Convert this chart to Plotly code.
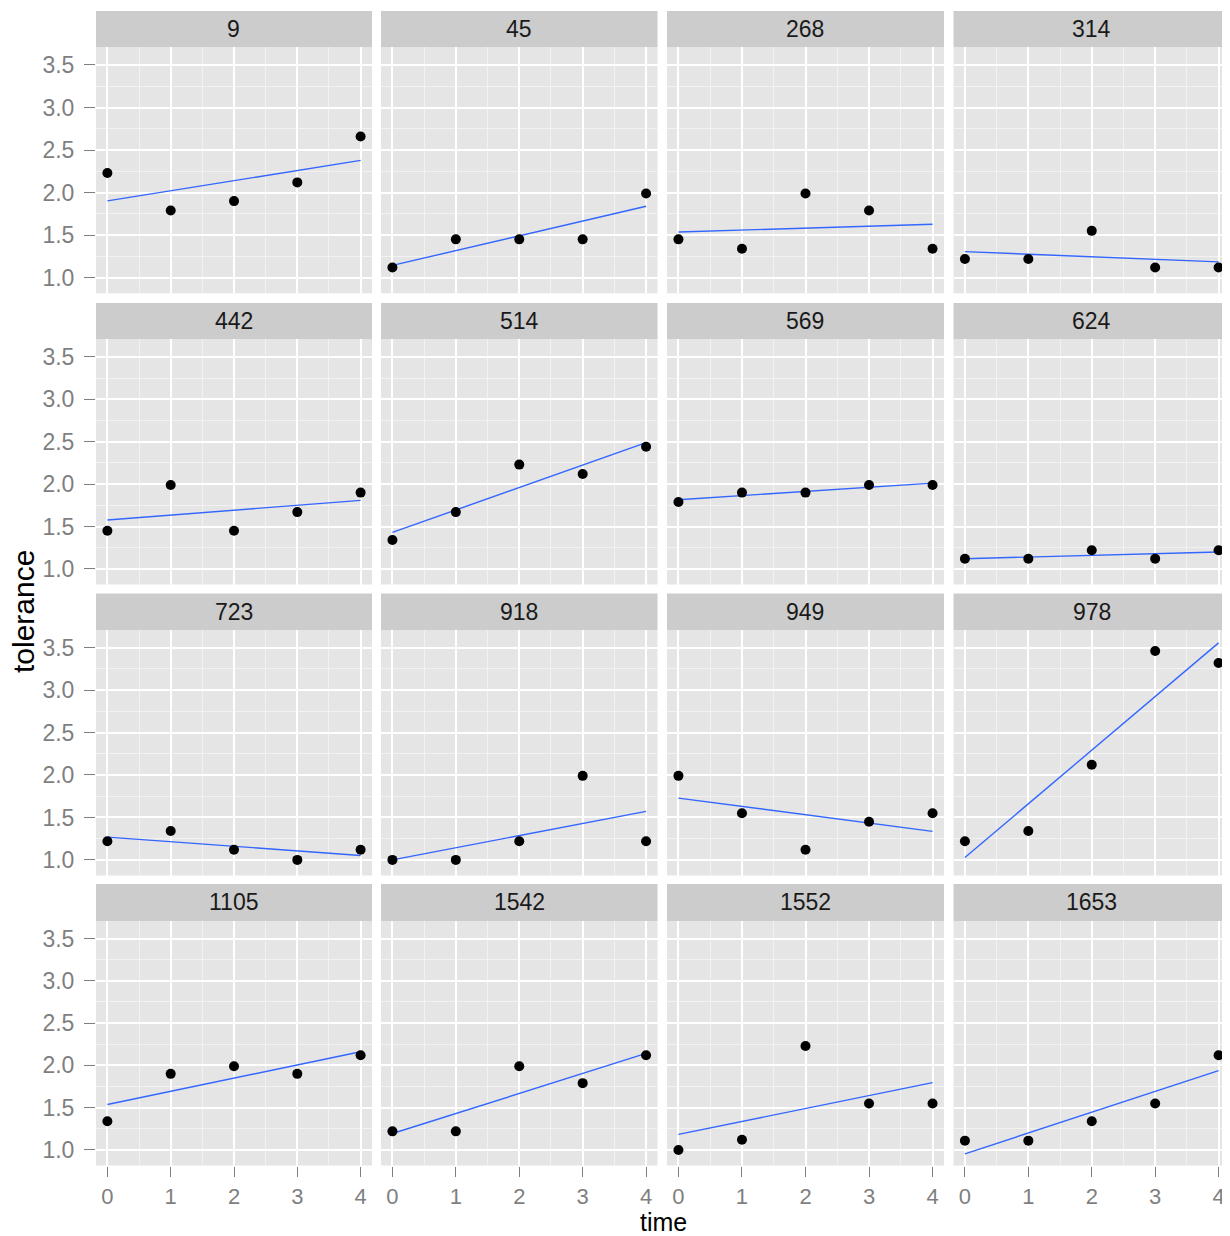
import numpy as np
import plotly.graph_objects as go

# ---- data ----
ids = ["9", "45", "268", "314", "442", "514", "569", "624",
       "723", "918", "949", "978", "1105", "1542", "1552", "1653"]
time = [0, 1, 2, 3, 4]
tolerance = [
    [2.23, 1.79, 1.90, 2.12, 2.66],
    [1.12, 1.45, 1.45, 1.45, 1.99],
    [1.45, 1.34, 1.99, 1.79, 1.34],
    [1.22, 1.22, 1.55, 1.12, 1.12],
    [1.45, 1.99, 1.45, 1.67, 1.90],
    [1.34, 1.67, 2.23, 2.12, 2.44],
    [1.79, 1.90, 1.90, 1.99, 1.99],
    [1.12, 1.12, 1.22, 1.12, 1.22],
    [1.22, 1.34, 1.12, 1.00, 1.12],
    [1.00, 1.00, 1.22, 1.99, 1.22],
    [1.99, 1.55, 1.12, 1.45, 1.55],
    [1.22, 1.34, 2.12, 3.46, 3.32],
    [1.34, 1.90, 1.99, 1.90, 2.12],
    [1.22, 1.22, 1.99, 1.79, 2.12],
    [1.00, 1.12, 2.23, 1.55, 1.55],
    [1.11, 1.11, 1.34, 1.55, 2.12],
]
x_ticks = [0, 1, 2, 3, 4]
y_ticks = [1.0, 1.5, 2.0, 2.5, 3.0, 3.5]

# ---- layout geometry (pixels in the 1230x1236 window) ----
OFF = 8                      # page body margin offset
W, H = 1230 - OFF, 1236 - OFF
cols_px = [(96, 372), (381, 657.5), (667, 944), (953.5, 1230)]
rows_px = [(47.3, 293.3), (339.3, 584.5), (630, 875.5), (921, 1165.5)]
strip_px = [(11, 47.3), (303, 339.3), (593.5, 630), (884, 921)]

def px_x(v):
    return min(max((v - OFF) / W, 0), 1)

def px_y(v):
    return min(max(1 - (v - OFF) / H, 0), 1)

FONT = "Arial, Liberation Sans, sans-serif"
TICK_COL = "#7F7F7F"

fig = go.Figure()
layout = dict(
    width=W, height=H,
    margin=dict(l=0, r=0, t=0, b=0),
    paper_bgcolor="white",
    plot_bgcolor="#E5E5E5",
    showlegend=False,
    font=dict(family=FONT),
)
shapes = []
annotations = []

for k, sid in enumerate(ids):
    r, c = divmod(k, 4)
    n = k + 1
    xa = "x" if n == 1 else f"x{n}"
    ya = "y" if n == 1 else f"y{n}"
    xkey = "xaxis" if n == 1 else f"xaxis{n}"
    ykey = "yaxis" if n == 1 else f"yaxis{n}"

    vals = tolerance[k]
    slope, intercept = np.polyfit(time, vals, 1)
    xl = [time[0], time[-1]]
    yl = [intercept + slope * t for t in xl]

    fig.add_trace(go.Scatter(x=xl, y=yl, mode="lines",
                             line=dict(color="#3366FF", width=1.4),
                             xaxis=xa, yaxis=ya, hoverinfo="skip"))
    fig.add_trace(go.Scatter(x=time, y=vals, mode="markers",
                             marker=dict(color="black", size=10, symbol="circle"),
                             xaxis=xa, yaxis=ya))

    bottom = (r == 3)
    left = (c == 0)
    layout[xkey] = dict(
        domain=[px_x(cols_px[c][0]), px_x(cols_px[c][1])],
        anchor=ya, range=[-0.18, 4.18],
        tickvals=x_ticks, ticktext=[str(t) for t in x_ticks],
        showticklabels=bottom, ticks="outside" if bottom else "",
        ticklen=10, tickwidth=1.3, tickcolor=TICK_COL,
        ticklabelstandoff=1,
        tickfont=dict(family=FONT, size=22, color=TICK_COL),
        showgrid=True, gridcolor="white", gridwidth=1.8,
        minor=dict(tickvals=[0.5, 1.5, 2.5, 3.5], showgrid=True,
                   gridcolor="#F2F2F2", gridwidth=0.9, ticks=""),
        zeroline=False, showline=False, fixedrange=True,
    )
    layout[ykey] = dict(
        domain=[px_y(rows_px[r][1]), px_y(rows_px[r][0])],
        anchor=xa, range=[0.816, 3.708],
        tickvals=y_ticks, ticktext=[f"{v:.1f}" for v in y_ticks],
        showticklabels=left, ticks="outside" if left else "",
        ticklen=11, tickwidth=1.3, tickcolor=TICK_COL,
        ticklabelstandoff=5,
        tickfont=dict(family=FONT, size=23, color=TICK_COL),
        showgrid=True, gridcolor="white", gridwidth=1.8,
        minor=dict(tickvals=[1.25, 1.75, 2.25, 2.75, 3.25], showgrid=True,
                   gridcolor="#F2F2F2", gridwidth=0.9, ticks=""),
        zeroline=False, showline=False, fixedrange=True,
    )

    # facet strip
    x0, x1 = px_x(cols_px[c][0]), px_x(cols_px[c][1])
    y0, y1 = px_y(strip_px[r][1]), px_y(strip_px[r][0])
    shapes.append(dict(type="rect", xref="paper", yref="paper",
                       x0=x0, x1=x1, y0=y0, y1=y1,
                       fillcolor="#CCCCCC", line=dict(width=0), layer="below"))
    annotations.append(dict(text=sid, xref="paper", yref="paper",
                            x=(x0 + x1) / 2, y=(y0 + y1) / 2,
                            xanchor="center", yanchor="middle", showarrow=False,
                            font=dict(family=FONT, size=23, color="#1A1A1A")))

annotations.append(dict(text="time", xref="paper", yref="paper",
                        x=px_x(663), y=0, xanchor="center", yanchor="bottom",
                        yshift=-1, borderpad=0,
                        showarrow=False, font=dict(family=FONT, size=25, color="black")))
annotations.append(dict(text="tolerance", xref="paper", yref="paper",
                        x=px_x(23), y=px_y(612), xanchor="center", yanchor="middle",
                        textangle=-90, showarrow=False,
                        font=dict(family=FONT, size=30, color="black")))

layout["shapes"] = shapes
layout["annotations"] = annotations
fig.update_layout(**layout)
fig.write_html("out.html")
